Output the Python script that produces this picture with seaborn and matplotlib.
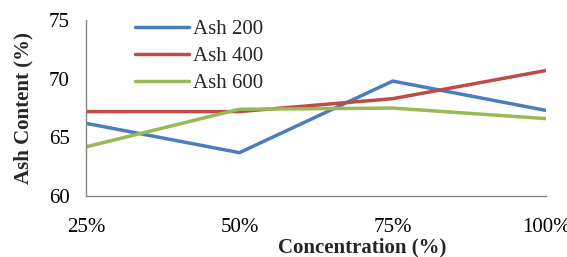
import matplotlib
matplotlib.use("Agg")
import matplotlib.pyplot as plt
import seaborn as sns
import pandas as pd

categories = ["25%", "50%", "75%", "100%"]
ash_200 = [66.2, 63.7, 69.8, 67.3]
ash_400 = [67.2, 67.2, 68.3, 70.7]
ash_600 = [64.2, 67.4, 67.5, 66.6]
series_names = ["Ash 200", "Ash 400", "Ash 600"]
colors = ["#4a7ebb", "#be4b48", "#98b954"]

rows = []
for name, vals in zip(series_names, [ash_200, ash_400, ash_600]):
    for i, (c, v) in enumerate(zip(categories, vals)):
        rows.append({"x": i, "cat": c, "value": v, "series": name})
df = pd.DataFrame(rows)

sns.set_style("white")
plt.rcParams["font.family"] = ["Liberation Serif", "DejaVu Serif"]

fs = 15
fig = plt.figure(figsize=(5.67, 2.57), dpi=100)
ax = fig.add_axes([0.152, 0.237, 0.811, 0.685])
sns.lineplot(data=df, x="x", y="value", hue="series", palette=colors,
             linewidth=2.5, ax=ax, legend=True)

ax.set_xlim(0, 3)
ax.set_ylim(60, 75)
ax.set_yticks([60, 65, 70, 75])
ax.set_xticks(range(len(categories)))
ax.set_xticklabels(categories)
ax.tick_params(axis="both", labelsize=fs, colors="black", length=5,
               color="#868686", direction="out", width=1)
ax.tick_params(axis="x", pad=11)
ax.tick_params(axis="y", pad=7)
for s in ["top", "right"]:
    ax.spines[s].set_visible(False)
for s in ["left", "bottom"]:
    ax.spines[s].set_color("#868686")
    ax.spines[s].set_linewidth(1)

ax.set_ylabel("Ash Content (%)", fontsize=fs, fontweight="bold")
ax.set_xlabel("Concentration (%)", fontsize=fs, fontweight="bold")
ax.xaxis.set_label_coords((362 - 86) / 460, -0.235)
ax.yaxis.set_label_coords(-0.115, 0.5)

leg = ax.legend(loc="upper left", bbox_to_anchor=(0.088, 1.05), frameon=False,
                fontsize=fs, handlelength=2.6, handletextpad=0.2,
                labelspacing=0.35, borderaxespad=0)

fig.savefig("out.png", dpi=100)
